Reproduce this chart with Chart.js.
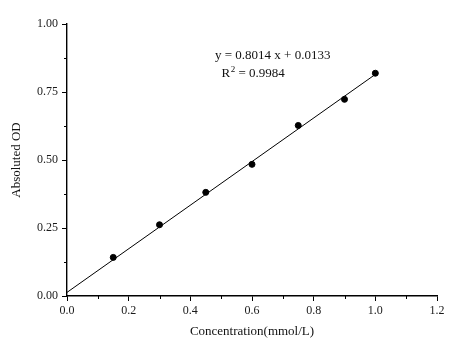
<!DOCTYPE html>
<html>
<head>
<meta charset="utf-8">
<script src="https://cdn.jsdelivr.net/npm/chart.js@4/dist/chart.umd.min.js"></script>
<style>
html,body{margin:0;padding:0;background:#fff;}
#wrap{width:476px;height:355px;}
</style>
</head>
<body>
<div id="wrap"><canvas id="c" width="476" height="355"></canvas></div>
<script>
// Data
const concentration = [0.15, 0.30, 0.45, 0.60, 0.75, 0.90, 1.00];
const absorbance    = [0.142, 0.262, 0.381, 0.484, 0.627, 0.723, 0.819];
const fitLineX = [0.0, 1.0];
const fitLineY = [0.0133, 0.8147];
const xTicks = [0.0, 0.2, 0.4, 0.6, 0.8, 1.0, 1.2];
const yTicks = [0.00, 0.25, 0.50, 0.75, 1.00];
const xMinorTicks = [0.1, 0.3, 0.5, 0.7, 0.9, 1.1];
const yMinorTicks = [0.125, 0.375, 0.625, 0.875];
const equationText = 'y = 0.8014 x + 0.0133';
const r2Parts = ['R', '2', ' = 0.9984'];
const xTitle = 'Concentration(mmol/L)';
const yTitle = 'Absoluted OD';

const FONT = "'Liberation Serif', 'Times New Roman', serif";

const minorTicksPlugin = {
  id: 'minorTicks',
  afterDraw(chart) {
    const ctx = chart.ctx;
    const xs = chart.scales.x, ys = chart.scales.y;
    const area = chart.chartArea;
    ctx.save();
    ctx.strokeStyle = '#000';
    ctx.lineWidth = 1;
    xMinorTicks.forEach(v => {
      const px = Math.round(xs.getPixelForValue(v)) + 0.5;
      ctx.beginPath(); ctx.moveTo(px, area.bottom); ctx.lineTo(px, area.bottom + 3); ctx.stroke();
    });
    yMinorTicks.forEach(v => {
      const py = Math.round(ys.getPixelForValue(v)) + 0.5;
      ctx.beginPath(); ctx.moveTo(area.left, py); ctx.lineTo(area.left - 3, py); ctx.stroke();
    });
    // equation annotation
    ctx.fillStyle = '#111';
    ctx.textBaseline = 'alphabetic';
    ctx.textAlign = 'left';
    ctx.font = '13px ' + FONT;
    ctx.fillText(equationText, 215, 58.5);
    let x = 221.5;
    const base = 76.5;
    ctx.fillText(r2Parts[0], x, base);
    x += ctx.measureText(r2Parts[0]).width + 0.5;
    ctx.font = '9px ' + FONT;
    ctx.fillText(r2Parts[1], x, base - 5);
    x += ctx.measureText(r2Parts[1]).width;
    ctx.font = '13px ' + FONT;
    ctx.fillText(r2Parts[2], x, base);
    ctx.restore();
  }
};

new Chart(document.getElementById('c'), {
  type: 'scatter',
  data: {
    datasets: [
      {
        label: 'fit',
        type: 'line',
        data: fitLineX.map((x, i) => ({x, y: fitLineY[i]})),
        borderColor: '#000',
        borderWidth: 1,
        pointRadius: 0,
        fill: false,
        order: 2
      },
      {
        label: 'data',
        data: concentration.map((x, i) => ({x, y: absorbance[i]})),
        backgroundColor: '#000',
        borderColor: '#000',
        pointRadius: 3,
        order: 1
      }
    ]
  },
  options: {
    responsive: false,
    animation: false,
    events: [],
    layout: { padding: { left: 0, right: 39, top: 24, bottom: 0 } },
    plugins: { legend: { display: false }, tooltip: { enabled: false } },
    scales: {
      x: {
        type: 'linear',
        min: 0, max: 1.2,
        afterBuildTicks: s => { s.ticks = xTicks.map(v => ({value: v})); },
        afterFit: s => { s.height = 59; },
        grid: { drawOnChartArea: false, drawTicks: true, tickLength: 5, color: '#000', tickWidth: 1 },
        border: { display: true, color: '#000', width: 1.4 },
        ticks: { color: '#1a1a1a', font: { family: FONT, size: 12 }, padding: 3, maxRotation: 0,
                 callback: v => Number(v).toFixed(1) },
        title: { display: true, text: xTitle, color: '#111', font: { family: FONT, size: 13 },
                 padding: { top: 0, bottom: 15.5 } }
      },
      y: {
        type: 'linear',
        min: 0, max: 1.0,
        afterBuildTicks: s => { s.ticks = yTicks.map(v => ({value: v})); },
        afterFit: s => { s.width = 67; },
        grid: { drawOnChartArea: false, drawTicks: true, tickLength: 5, color: '#000', tickWidth: 1 },
        border: { display: true, color: '#000', width: 1.4 },
        ticks: { color: '#1a1a1a', font: { family: FONT, size: 12 }, padding: 4,
                 callback: v => Number(v).toFixed(2) },
        title: { display: true, text: yTitle, color: '#111', font: { family: FONT, size: 13 },
                 padding: { top: 9, bottom: 0 } }
      }
    }
  },
  plugins: [minorTicksPlugin]
});
</script>
</body>
</html>
